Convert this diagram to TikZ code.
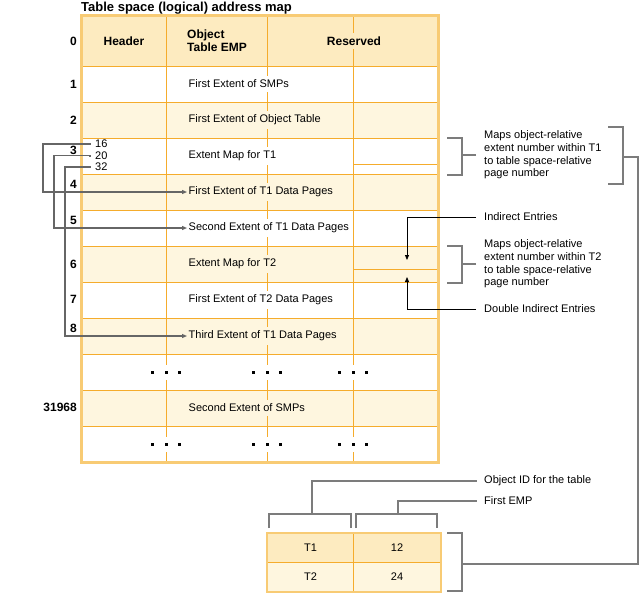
\documentclass[tikz,border=0pt]{standalone}
\usepackage{fontspec}
\setmainfont{Liberation Sans}
\usetikzlibrary{arrows.meta}

\definecolor{mapgrid}{HTML}{F5AC2C}
\definecolor{mapedge}{HTML}{F8CB74}
\definecolor{maphead}{HTML}{FDEBC0}
\definecolor{maplight}{HTML}{FEF6DF}
\definecolor{linkgray}{HTML}{666666}
\definecolor{bracegray}{HTML}{7C7C7C}

\newcommand\dotgroup{\rule{3pt}{3pt}\hspace{10.5pt}\rule{3pt}{3pt}\hspace{10.5pt}\rule{3pt}{3pt}}

\begin{document}
\begin{tikzpicture}[x=1pt, y=-1pt, font=\fontsize{11}{12.6}\selectfont,
  band/.style={draw=mapgrid, line width=1pt, anchor=north west, inner sep=0pt,
               minimum width=357pt, minimum height=36pt},
  entry/.style={anchor=west, inner xsep=1.5pt, inner ysep=4pt},
  slot/.style={anchor=east, inner sep=0pt, font=\fontsize{12}{14}\selectfont\bfseries},
  head/.style={font=\fontsize{12}{13}\selectfont\bfseries, align=left},
  note/.style={anchor=west, align=left, inner xsep=0pt},
  cell/.style={draw=mapgrid, line width=1pt, anchor=north west, inner sep=0pt,
               minimum width=86pt, minimum height=29pt},
  ptr/.style={{Square[length=2pt, width=2pt]}-{Triangle[length=5pt, width=4pt]},
              draw=linkgray, line width=1.1pt},
  hop/.style={-{Triangle[length=5pt, width=4pt]}, line width=0.8pt},
  brace/.style={draw=bracegray, line width=1.2pt},
  dots/.style={fill=white, inner xsep=2pt, inner ysep=6pt}]
  \useasboundingbox (0,0) rectangle (639,592);

  \node[anchor=base west, inner sep=0pt, font=\fontsize{13}{15}\selectfont\bfseries] (title)
    at (81,11) {Table space (logical) address map};

  % rows of the address map
  \node[band, fill=maphead, minimum height=51pt] (r0) at (81,15) {};
  \node[band, fill=white] (r1) at (81,66) {};
  \node[band, fill=maplight] (r2) at (81,102) {};
  \node[band, fill=white] (r3) at (81,138) {};
  \node[band, fill=maplight] (r4) at (81,174) {};
  \node[band, fill=white] (r5) at (81,210) {};
  \node[band, fill=maplight] (r6) at (81,246) {};
  \node[band, fill=white] (r7) at (81,282) {};
  \node[band, fill=maplight] (r8) at (81,318) {};
  \node[band, fill=white] (r9) at (81,354) {};
  \node[band, fill=maplight] (r10) at (81,390) {};
  \node[band, fill=white] (r11) at (81,426) {};

  \draw[mapgrid, line width=1pt] (166,15) -- (166,462) (267,15) -- (267,462)
    (353,15) -- (353,462) (353,164) -- (438,164) (353,269) -- (438,269);
  \draw[mapedge, line width=3pt] (81,15) rectangle (438,462);

  % headings
  \node[head] (hh) at (124,41) {Header};
  \node[head, anchor=west, inner xsep=0pt] (ho) at (187,40.5) {Object\\Table EMP};
  \node[head, fill=maphead, inner ysep=4pt, inner xsep=1pt] (hr) at (354,41) {Reserved};

  \node[slot] (s0) at (77,41) {0};
  \node[slot] (s1) at (77,84) {1};
  \node[slot] (s2) at (77,120) {2};
  \node[slot] (s3) at (77,150) {3};
  \node[slot] (s4) at (77,184) {4};
  \node[slot] (s5) at (77,220) {5};
  \node[slot] (s6) at (77,264) {6};
  \node[slot] (s7) at (77,299) {7};
  \node[slot] (s8) at (77,328) {8};
  \node[slot] (s31968) at (77,407) {31968};

  % entries
  \node[entry, fill=white] (t1) at (187,84) {First Extent of SMPs};
  \node[entry, fill=maplight] (t2) at (187,120) {First Extent of Object Table};
  \node[entry, fill=white] (t3) at (187,156) {Extent Map for T1};
  \node[entry, fill=maplight] (t4) at (187,192) {First Extent of T1 Data Pages};
  \node[entry, fill=white] (t5) at (187,228) {Second Extent of T1 Data Pages};
  \node[entry, fill=maplight] (t6) at (187,264) {Extent Map for T2};
  \node[entry, fill=white] (t7) at (187,300) {First Extent of T2 Data Pages};
  \node[entry, fill=maplight] (t8) at (187,336) {Third Extent of T1 Data Pages};
  \node[entry, fill=maplight] (t10) at (187,408) {Second Extent of SMPs};

  \node[dots] (d9a) at (166,372) {\dotgroup};
  \node[dots] (d9b) at (267,372) {\dotgroup};
  \node[dots] (d9c) at (353,372) {\dotgroup};
  \node[dots] (d11a) at (166,444) {\dotgroup};
  \node[dots] (d11b) at (267,444) {\dotgroup};
  \node[dots] (d11c) at (353,444) {\dotgroup};

  % extent map pointers
  \node[note] (p16) at (95,144) {16};
  \node[note] (p20) at (95,155.5) {20};
  \node[note] (p32) at (95,167) {32};
  \draw[ptr] ([xshift=-4pt]p16.west) -- ++(-48pt,0) |- (t4.west);
  \draw[ptr] ([xshift=-4pt]p20.west) -- ++(-37pt,0) |- (t5.west);
  \draw[ptr] ([xshift=-4pt]p32.west) -- ++(-26pt,0) |- (t8.west);

  % notes on the right
  \node[note] (m1) at (484,155) {Maps object-relative\\extent number within T1\\
    to table space-relative\\page number};
  \node[note] (ie) at (484,217) {Indirect Entries};
  \node[note] (m2) at (484,264) {Maps object-relative\\extent number within T2\\
    to table space-relative\\page number};
  \node[note] (die) at (484,309) {Double Indirect Entries};
  \node[note] (oid) at (484,481) {Object ID for the table};
  \node[note] (emp) at (484,501) {First EMP};

  \draw[brace] (447,138) -- (462,138) -- (462,175) -- (447,175);
  \draw[brace] ([xshift=-8pt]m1.west) -- ++(-14pt,0);
  \draw[brace] (447,246) -- (462,246) -- (462,283) -- (447,283);
  \draw[brace] ([xshift=-8pt]m2.west) -- ++(-14pt,0);

  \coordinate (hit1) at (407,260);
  \coordinate (hit2) at (407,277);
  \draw[hop] ([xshift=-8pt]ie.west) -| (hit1);
  \draw[hop] ([xshift=-8pt]die.west) -| (hit2);

  % object table
  \node[cell, fill=maphead] (c11) at (267,533) {T1};
  \node[cell, fill=maphead, minimum width=87pt] (c12) at (353,533) {12};
  \node[cell, fill=maplight] (c21) at (267,562) {T2};
  \node[cell, fill=maplight, minimum width=87pt] (c22) at (353,562) {24};
  \draw[mapedge, line width=2pt] (c11.north west) rectangle (c22.south east);

  \draw[brace] (269,528) -- (269,514) -- (351,514) -- (351,528);
  \draw[brace] (312,514) |- ([xshift=-7pt]oid.west);
  \draw[brace] (356,528) -- (356,514) -- (437,514) -- (437,528);
  \draw[brace] (398,514) |- ([xshift=-7pt]emp.west);

  \coordinate (bigmid) at (623,157);
  \coordinate (lowmid) at (462,564);
  \draw[brace] (608,127) -- (623,127) -- (623,184) -- (608,184);
  \draw[brace] (447,533) -- (462,533) -- (462,591) -- (447,591);
  \draw[brace] (bigmid) -- ++(15pt,0) |- (lowmid);
\end{tikzpicture}
\end{document}
